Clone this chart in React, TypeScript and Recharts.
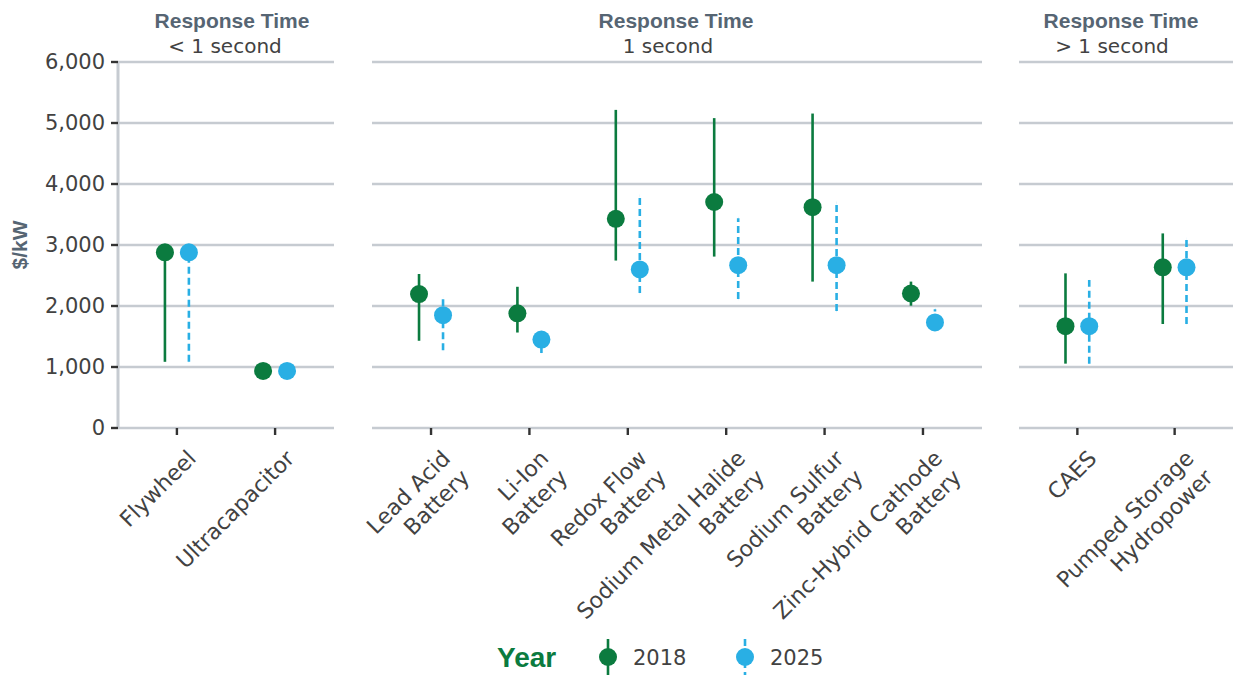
import { ComposedChart, Scatter, ErrorBar, XAxis, YAxis, CartesianGrid } from 'recharts';

// technologies, grouped by response time
const technologies = [
  'Flywheel',
  'Ultracapacitor',
  'Lead Acid\nBattery',
  'Li-Ion\nBattery',
  'Redox Flow\nBattery',
  'Sodium Metal Halide\nBattery',
  'Sodium Sulfur\nBattery',
  'Zinc-Hybrid Cathode\nBattery',
  'CAES',
  'Pumped Storage\nHydropower',
];
const responseGroup = [0, 0, 1, 1, 1, 1, 1, 1, 2, 2];
const responseLabels = ['< 1 second', '1 second', '> 1 second'];

// $/kW point estimate and range
const cost2018 = [2880, 935, 2195, 1880, 3430, 3705, 3620, 2205, 1670, 2635];
const low2018 = [1085, 935, 1430, 1565, 2745, 2810, 2400, 2005, 1055, 1705];
const high2018 = [2880, 935, 2525, 2315, 5215, 5080, 5155, 2400, 2535, 3190];
const cost2025 = [2880, 935, 1850, 1450, 2600, 2670, 2670, 1730, 1670, 2635];
const low2025 = [1085, 935, 1275, 1230, 2215, 2115, 1920, 1730, 1055, 1705];
const high2025 = [2880, 935, 2150, 1450, 3805, 3440, 3690, 1945, 2425, 3100];

const yTicks = [0, 1000, 2000, 3000, 4000, 5000, 6000];
const years = ['2018', '2025'];
const yearColors = ['#0b7b3f', '#29afe4'];

const GRID = '#c6cbd1';
const TEXT = '#424242';
const SLATE = '#566573';
const DODGE = 0.122;

const series = [
  { name: years[0], color: yearColors[0], dash: undefined, cost: cost2018, low: low2018, high: high2018, side: -1 },
  { name: years[1], color: yearColors[1], dash: '7 4', cost: cost2025, low: low2025, high: high2025, side: 1 },
];

const panels = [
  { left: 0, width: 340, marginLeft: 0, marginRight: 6, showY: true, titleX: 232, subX: 225 },
  { left: 340, width: 648, marginLeft: 32, marginRight: 6, showY: false, titleX: 676, subX: 668 },
  { left: 990, width: 243, marginLeft: 29, marginRight: 0, showY: false, titleX: 1121, subX: 1112 },
];

function TechTick(props: any) {
  const { x, y, payload, names } = props;
  const label: string = names[payload.value] ?? '';
  return (
    <g transform={`translate(${x},${y}) rotate(-45)`}>
      {label.split('\n').map((line, i) => (
        <text key={i} x={-3} y={32 + i * 27} textAnchor="end" fontSize={22} fill={TEXT}>
          {line}
        </text>
      ))}
    </g>
  );
}

function Panel({ group }: { group: number }) {
  const p = panels[group];
  const idx = technologies.map((_, i) => i).filter((i) => responseGroup[i] === group);
  const names = idx.map((i) => technologies[i]);
  const n = idx.length;

  return (
    <div style={{ position: 'absolute', left: p.left, top: 0 }}>
      <ComposedChart
        width={p.width}
        height={677}
        margin={{ top: 62, right: p.marginRight, bottom: 0, left: p.marginLeft }}
      >
        <CartesianGrid vertical={false} stroke={GRID} strokeWidth={2.5} />
        <XAxis
          type="number"
          dataKey="x"
          domain={[-0.6, n - 0.4]}
          ticks={names.map((_, i) => i)}
          interval={0}
          height={249}
          axisLine={false}
          tickLine={{ stroke: '#333', strokeWidth: 2.4 }}
          tickSize={7}
          tickMargin={0}
          tick={<TechTick names={names} />}
        />
        <YAxis
          type="number"
          dataKey="v"
          domain={[0, 6000]}
          ticks={yTicks}
          hide={!p.showY}
          width={118}
          axisLine={{ stroke: GRID, strokeWidth: 3 }}
          tickLine={{ stroke: '#333', strokeWidth: 2.4 }}
          tickSize={7}
          tickMargin={6}
          tick={{ fontSize: 21, fill: TEXT }}
          tickFormatter={(v: number) => v.toLocaleString('en-US')}
          label={(lp: any) => {
            const vb = lp.viewBox || {};
            const cy = (vb.y ?? 62) + (vb.height ?? 366) / 2;
            return (
              <text
                x={19}
                y={cy}
                transform={`rotate(-90, 19, ${cy})`}
                textAnchor="middle"
                dominantBaseline="central"
                fontFamily="Liberation Sans, Arial, sans-serif"
                fontWeight="bold"
                fontSize={21}
                fill={SLATE}
              >
                $/kW
              </text>
            );
          }}
        />
        {series.map((s) => {
          const rows = idx.map((gi, i) => ({
            x: i + s.side * DODGE,
            v: s.cost[gi],
            lo: s.low[gi],
            hi: s.high[gi],
          }));
          return (
            <Scatter
              key={s.name}
              name={s.name}
              data={rows}
              fill={s.color}
              isAnimationActive={false}
              shape={(sp: any) => <circle cx={sp.cx} cy={sp.cy} r={9} fill={s.color} />}
            >
              <ErrorBar
                dataKey={(d: any) => [d.v - d.lo, d.hi - d.v]}
                direction="y"
                width={0}
                stroke={s.color}
                strokeWidth={2.6}
                strokeDasharray={s.dash}
                isAnimationActive={false}
              />
            </Scatter>
          );
        })}
      </ComposedChart>
    </div>
  );
}

function Titles() {
  return (
    <svg width={1233} height={60} style={{ position: 'absolute', left: 0, top: 0 }}>
      {panels.map((p, i) => (
        <g key={i}>
          <text
            x={p.titleX}
            y={28}
            textAnchor="middle"
            fontFamily="Liberation Sans, Arial, sans-serif"
            fontWeight="bold"
            fontSize={21}
            fill={SLATE}
          >
            Response Time
          </text>
          <text x={p.subX} y={53} textAnchor="middle" fontSize={20} fill={TEXT}>
            {responseLabels[i]}
          </text>
        </g>
      ))}
    </svg>
  );
}

function YearLegend() {
  const xs = [608, 745];
  return (
    <svg width={1233} height={60} style={{ position: 'absolute', left: 0, top: 630 }}>
      <text
        x={497}
        y={37}
        fontFamily="Liberation Sans, Arial, sans-serif"
        fontWeight="bold"
        fontSize={28}
        fill={yearColors[0]}
      >
        Year
      </text>
      {series.map((s, i) => (
        <g key={s.name}>
          <line x1={xs[i]} x2={xs[i]} y1={9} y2={45} stroke={s.color} strokeWidth={2.6} strokeDasharray={s.dash} />
          <circle cx={xs[i]} cy={27} r={9} fill={s.color} />
          <text x={xs[i] + 25} y={35} fontSize={21} fill={TEXT}>
            {s.name}
          </text>
        </g>
      ))}
    </svg>
  );
}

export default function App() {
  return (
    <div
      style={{
        position: 'absolute',
        left: 0,
        top: 0,
        width: 1233,
        height: 677,
        background: '#fff',
        fontFamily: 'DejaVu Sans, sans-serif',
        overflow: 'hidden',
      }}
    >
      <Titles />
      <Panel group={0} />
      <Panel group={1} />
      <Panel group={2} />
      <YearLegend />
    </div>
  );
}
